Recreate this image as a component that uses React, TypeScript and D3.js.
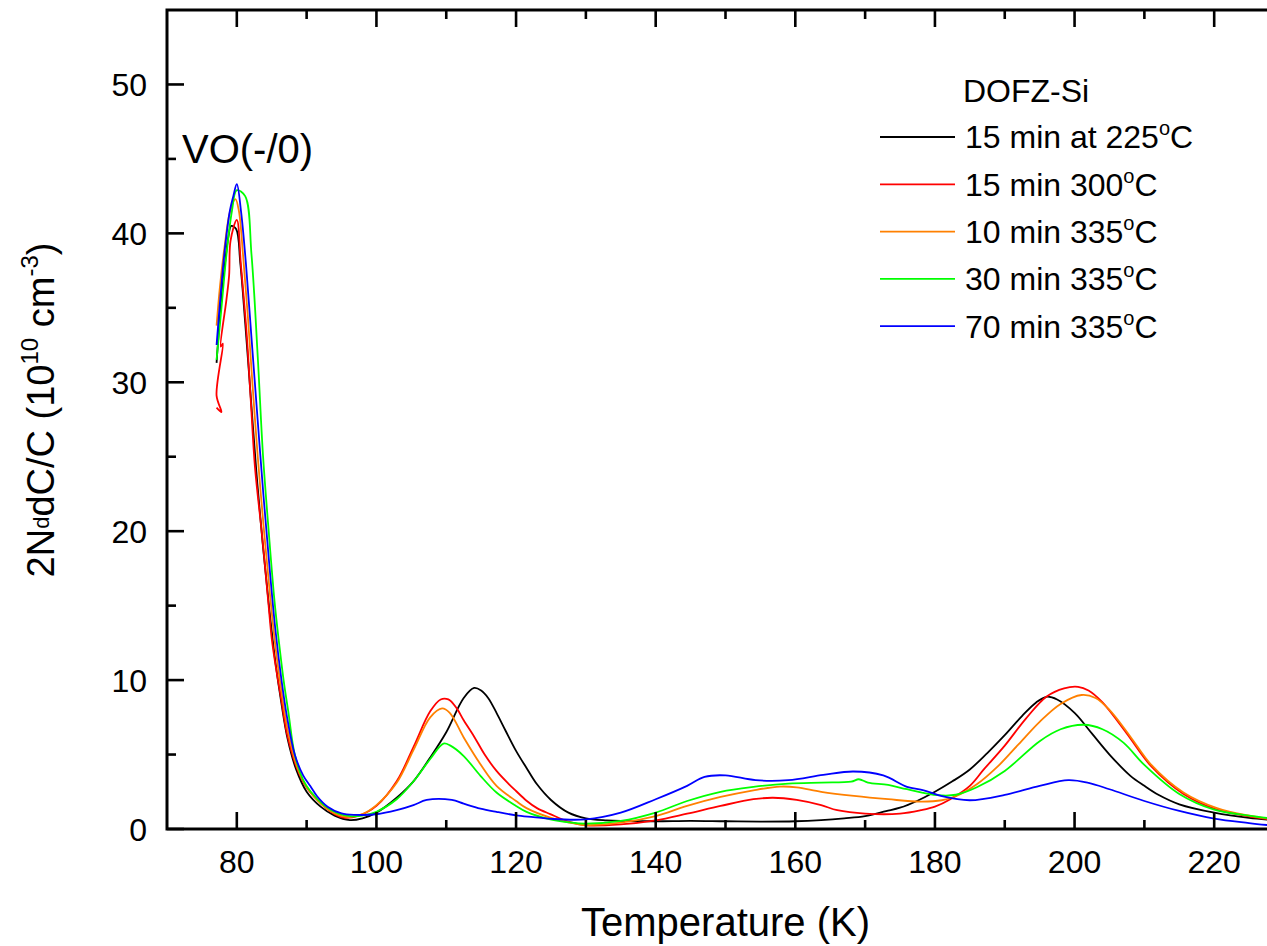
import React, { useEffect, useRef } from 'react';
import * as d3 from 'd3';

// [temperature (K), 2NddC/C (1e10 cm^-3)]
const black = [
  [77.1, 31.3], [77.6, 34.5], [78.2, 37.5], [78.8, 39.8], [79.2, 40.5], [79.9, 40.3], [80.5, 38.0],
  [81.2, 34.0], [82.0, 29.0], [82.8, 24.0], [83.7, 19.2], [84.6, 15.0], [85.5, 11.3], [86.4, 8.4],
  [87.3, 6.0], [88.5, 4.0], [90.0, 2.5], [92.0, 1.5], [94.0, 0.9], [96.2, 0.6], [98.0, 0.72],
  [100, 1.1], [102.9, 2.1], [105.3, 3.2], [107.7, 4.8], [110, 6.5], [112.5, 8.8], [114, 9.47],
  [115, 9.3], [116, 8.8], [117.2, 7.8], [118.5, 6.6], [120, 5.25], [121.5, 4.1], [123, 3.0],
  [125, 1.95], [127.5, 1.1], [130, 0.72], [133, 0.58], [135, 0.54], [140, 0.52], [145, 0.55],
  [150, 0.52], [155, 0.5], [160, 0.52], [163.7, 0.6], [167, 0.72], [170, 0.87], [173, 1.2],
  [175, 1.43], [177.5, 1.9], [180, 2.5], [182.5, 3.2], [185, 4.0], [187.5, 5.1], [190, 6.3],
  [192.5, 7.6], [194.5, 8.5], [196, 8.88], [197.5, 8.7], [200, 7.8], [202.5, 6.4], [205, 5.0],
  [208, 3.57], [210, 2.9], [212, 2.3], [215, 1.66], [220, 1.1], [225, 0.75], [230, 0.55],
];

const red = [
  [77.1, 28.3], [77.8, 28.0], [77.1, 29.1], [78.0, 32.6], [77.7, 32.4], [78.5, 35.5], [78.9, 37.2],
  [79.1, 39.5], [80.0, 40.9], [80.6, 37.8], [81.4, 33.3], [82.0, 28.8], [82.6, 24.3], [83.6, 19.8],
  [84.5, 15.3], [85.0, 12.8], [85.6, 10.85], [86.4, 8.6], [87.2, 6.37], [88.6, 4.1], [90, 2.78],
  [91.7, 1.88], [93.35, 1.2], [95.3, 0.76], [97.5, 0.9], [100, 1.55], [102.9, 3.2], [105.3, 5.5],
  [107.7, 7.9], [109.2, 8.7], [110.3, 8.7], [111.5, 8.1], [112.5, 7.3], [114, 6.2], [115.5, 5.0],
  [117.2, 3.9], [119, 3.0], [120, 2.55], [121.5, 1.9], [123, 1.4], [124.9, 1.0], [127.5, 0.5],
  [130, 0.25], [135, 0.31], [140, 0.58], [144.5, 1.03], [149.3, 1.55], [154, 2.0], [156.8, 2.1],
  [160.2, 1.95], [163.7, 1.6], [166, 1.26], [170, 1.03], [175, 1.03], [178, 1.26], [180, 1.5],
  [182.2, 2.0], [185, 2.9], [187, 4.0], [190, 5.6], [193, 7.4], [196, 8.9], [198.5, 9.45],
  [200.5, 9.55], [202, 9.3], [204, 8.5], [207.5, 6.4], [211, 4.2], [215.6, 2.35], [220.4, 1.3],
  [225, 0.85], [230, 0.5],
];

const orange = [
  [77.1, 33.8], [77.6, 36.5], [78.3, 39.3], [79.0, 41.4], [79.8, 42.3], [80.3, 41.5], [80.9, 38.5],
  [81.6, 34.3], [82.3, 29.5], [83.0, 25.0], [83.9, 20.0], [84.8, 15.5], [85.6, 12.0], [86.5, 8.9],
  [87.4, 6.4], [88.7, 4.1], [90.1, 2.75], [92, 1.7], [94, 1.05], [96, 0.8], [98, 1.0], [100, 1.6],
  [102.9, 3.1], [105.3, 5.3], [107.7, 7.5], [109.4, 8.1], [110.5, 7.8], [112.5, 6.15], [114.9, 4.35],
  [117.2, 2.9], [120, 1.88], [121.5, 1.4], [124.9, 0.76], [127.5, 0.45], [130, 0.27], [135, 0.43],
  [140, 0.87], [144.5, 1.55], [149.3, 2.15], [154, 2.6], [157.8, 2.85], [160.2, 2.8], [163.7, 2.5],
  [168.4, 2.22], [173.3, 2.0], [178, 1.84], [181, 1.93], [183, 2.2], [186, 3.0], [189, 4.2],
  [192, 5.7], [195, 7.2], [198, 8.4], [201, 9.0], [203, 8.8], [205, 8.0], [208, 6.2], [211, 4.3],
  [215.6, 2.45], [220.4, 1.4], [225, 0.9], [230, 0.58],
];

const green = [
  [77.1, 31.5], [77.8, 35.0], [78.5, 38.5], [79.3, 41.5], [80.0, 42.9], [81.2, 42.5], [82.1, 38.6],
  [83.0, 31.7], [83.75, 25.1], [84.6, 19.8], [85.4, 15.3], [86.0, 12.7], [86.7, 10.0], [87.4, 7.8],
  [88.3, 5.0], [89.5, 3.3], [90.6, 2.5], [92.5, 1.6], [94.5, 1.05], [96.5, 0.85], [98, 0.9],
  [100, 1.16], [102.9, 2.0], [105.3, 3.2], [107.7, 4.7], [109.6, 5.74], [110.6, 5.6], [112.5, 4.9],
  [114.9, 3.57], [117.2, 2.45], [120, 1.55], [121.5, 1.15], [124.9, 0.65], [127.5, 0.45], [130, 0.36],
  [135, 0.54], [140, 1.1], [144.5, 1.88], [149.3, 2.5], [154, 2.83], [159, 3.05], [163.7, 3.12],
  [168, 3.18], [169.1, 3.34], [170.4, 3.12], [173.3, 2.96], [176, 2.67], [180.4, 2.27], [183, 2.3],
  [186, 2.8], [190, 3.9], [195, 5.9], [198, 6.7], [201.3, 7.0], [204, 6.7], [207, 5.8], [210, 4.3],
  [215, 2.35], [220, 1.3], [225, 0.9], [230, 0.6],
];

const blue = [
  [77.1, 32.5], [77.7, 36.0], [78.3, 39.0], [79.0, 41.5], [79.5, 42.5], [80.0, 43.3], [80.6, 41.5],
  [81.3, 38.0], [82.1, 33.0], [82.9, 28.0], [83.8, 22.5], [84.7, 17.5], [85.5, 13.5], [86.4, 10.0],
  [87.2, 7.5], [88.3, 5.0], [89.5, 3.6], [90.5, 2.9], [91.5, 2.2], [93, 1.5], [95, 1.05], [97, 0.95],
  [100, 0.99], [102.9, 1.26], [105.3, 1.6], [107.2, 1.95], [110.8, 1.95], [112.5, 1.7], [114.9, 1.37],
  [117.2, 1.15], [120, 0.92], [122.5, 0.8], [125, 0.68], [130, 0.65], [135, 1.1], [140, 2.0],
  [144.5, 2.9], [147, 3.5], [150, 3.6], [154.3, 3.28], [159, 3.28], [164, 3.63], [168.3, 3.86],
  [172.6, 3.6], [176, 2.83], [178.4, 2.6], [181, 2.2], [185, 1.93], [190, 2.29], [195, 2.9],
  [199.1, 3.28], [202, 3.1], [205, 2.67], [210, 1.88], [215, 1.21], [220, 0.7], [225, 0.4], [230, 0.15],
];

const seriesNames = ['15 min at 225', '15 min 300', '10 min 335', '30 min 335', '70 min 335'];
const seriesColors = ['#000000', '#ff0000', '#ff8000', '#00ff00', '#0000ff'];
const seriesData = [black, red, orange, green, blue];

const xMajor = [80, 100, 120, 140, 160, 180, 200, 220];
const xMinor = [90, 110, 130, 150, 170, 190, 210];
const yMajor = [0, 10, 20, 30, 40, 50];
const yMinor = [5, 15, 25, 35, 45];

const W = 1267;
const H = 946;
const FONT = '"Liberation Sans", Arial, Helvetica, sans-serif';

const App = () => {
  const svgRef = useRef(null);

  useEffect(() => {
    const svg = d3.select(svgRef.current);
    svg.selectAll('*').remove();

    const left = 167, right = 1284, top = 10, bottom = 829;
    const x = d3.scaleLinear().domain([70, 230]).range([left, right]);
    const y = d3.scaleLinear().domain([0, 55]).range([bottom, top]);

    svg.append('rect').attr('width', W).attr('height', H).attr('fill', '#ffffff');

    svg.append('defs').append('clipPath').attr('id', 'plotclip')
      .append('rect')
      .attr('x', left).attr('y', top)
      .attr('width', right - left).attr('height', bottom - top);

    // curves
    const line = d3.line()
      .x(d => x(d[0]))
      .y(d => y(d[1]))
      .curve(d3.curveCatmullRom.alpha(0.5));

    const g = svg.append('g').attr('clip-path', 'url(#plotclip)');
    seriesData.forEach((data, i) => {
      g.append('path')
        .attr('d', line(data))
        .attr('fill', 'none')
        .attr('stroke', seriesColors[i])
        .attr('stroke-width', 1.8)
        .attr('stroke-linejoin', 'round');
    });

    // frame
    const majorLen = 17, minorLen = 9;
    const tickW = 2.6;
    const frame = svg.append('g').attr('stroke', '#000');

    // x ticks, bottom and top, pointing inward
    [[xMajor, majorLen], [xMinor, minorLen]].forEach(([vals, len]) => {
      frame.selectAll(null).data(vals).enter().append('line')
        .attr('x1', d => x(d)).attr('x2', d => x(d))
        .attr('y1', bottom).attr('y2', bottom - len)
        .attr('stroke-width', tickW);
      frame.selectAll(null).data(vals).enter().append('line')
        .attr('x1', d => x(d)).attr('x2', d => x(d))
        .attr('y1', top).attr('y2', top + len)
        .attr('stroke-width', tickW);
    });

    // y ticks, left and right
    [[yMajor, majorLen], [yMinor, minorLen]].forEach(([vals, len]) => {
      frame.selectAll(null).data(vals).enter().append('line')
        .attr('x1', left).attr('x2', left + len)
        .attr('y1', d => y(d)).attr('y2', d => y(d))
        .attr('stroke-width', tickW);
      frame.selectAll(null).data(vals).enter().append('line')
        .attr('x1', right).attr('x2', right - len)
        .attr('y1', d => y(d)).attr('y2', d => y(d))
        .attr('stroke-width', tickW);
    });

    frame.append('rect')
      .attr('x', left).attr('y', top)
      .attr('width', right - left).attr('height', bottom - top)
      .attr('fill', 'none')
      .attr('stroke-width', 3);

    // tick labels
    svg.append('g').selectAll('text').data(xMajor).enter().append('text')
      .attr('x', d => x(d))
      .attr('y', 873)
      .attr('text-anchor', 'middle')
      .attr('font-family', FONT)
      .attr('font-size', 32)
      .text(d => d);

    svg.append('g').selectAll('text').data(yMajor).enter().append('text')
      .attr('x', 147)
      .attr('y', d => y(d) + 11.5)
      .attr('text-anchor', 'end')
      .attr('font-family', FONT)
      .attr('font-size', 32)
      .text(d => d);

    // axis titles
    svg.append('text')
      .attr('x', (left + right) / 2)
      .attr('y', 936)
      .attr('text-anchor', 'middle')
      .attr('font-family', FONT)
      .attr('font-size', 40)
      .text('Temperature (K)');

    const yt = svg.append('text')
      .attr('transform', 'translate(54,410) rotate(-90)')
      .attr('text-anchor', 'middle')
      .attr('font-family', FONT)
      .attr('font-size', 38);
    yt.append('tspan').text('2N');
    yt.append('tspan').attr('font-size', 22).attr('dy', -5).text('d');
    yt.append('tspan').attr('dy', 5).text('dC/C (10');
    yt.append('tspan').attr('font-size', 24).attr('dy', -16).text('10');
    yt.append('tspan').attr('dy', 16).text(' cm');
    yt.append('tspan').attr('font-size', 24).attr('dy', -16).text('-3');
    yt.append('tspan').attr('dy', 16).text(')');

    // annotation
    svg.append('text')
      .attr('x', 182)
      .attr('y', 163)
      .attr('font-family', FONT)
      .attr('font-size', 40)
      .text('VO(-/0)');

    // legend
    svg.append('text')
      .attr('x', 963)
      .attr('y', 101.7)
      .attr('font-family', FONT)
      .attr('font-size', 32)
      .text('DOFZ-Si');

    seriesNames.forEach((name, i) => {
      const rowY = 137 + i * 47.3;
      svg.append('line')
        .attr('x1', 880).attr('x2', 955)
        .attr('y1', rowY).attr('y2', rowY)
        .attr('stroke', seriesColors[i])
        .attr('stroke-width', 1.8);
      const t = svg.append('text')
        .attr('x', 965)
        .attr('y', rowY + 11.3)
        .attr('font-family', FONT)
        .attr('font-size', 32);
      t.append('tspan').text(name);
      t.append('tspan').attr('font-size', 20).attr('dy', -13).text('o');
      t.append('tspan').attr('dy', 13).text('C');
    });
  }, []);

  return (
    <svg
      ref={svgRef}
      width={W}
      height={H}
      style={{ position: 'absolute', left: 0, top: 0, display: 'block' }}
    />
  );
};

export default App;
